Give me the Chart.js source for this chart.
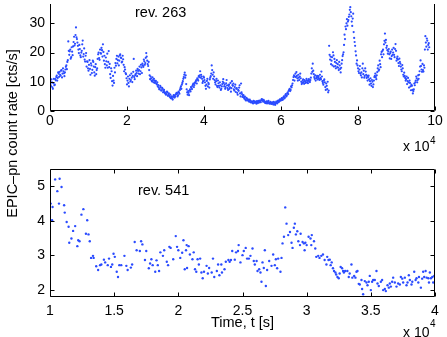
<!DOCTYPE html>
<html><head><meta charset="utf-8">
<script src="https://cdn.jsdelivr.net/npm/chart.js@4"></script>
<style>
html,body{margin:0;padding:0;background:#fff;}
#wrap{position:relative;width:447px;height:337px;overflow:hidden;background:#fff;}
canvas{position:absolute;left:0;top:0;}
</style></head><body>
<div id="wrap"><canvas id="c1" width="447" height="337"></canvas><canvas id="c2" width="447" height="337"></canvas></div>
<script>
// ---- data (time in units of 10^4 s, rate in cts/s) ----
// rev. 263: 125 s light-curve bins, listed as bin-start values (A) and half-bin values (B)
const topBinWidth = 0.025;
const topRateA = [
10.2,8.5,9.8,7.6,11.0,9.0,10.5,12.1,11.3,12.8,
13.4,12.1,14.0,12.8,13.6,11.9,14.2,15.6,16.8,23.8,
19.2,21.0,18.4,20.3,22.1,25.4,23.0,28.6,24.6,22.3,
19.8,21.2,18.4,20.6,24.1,19.5,17.6,18.9,15.2,16.8,
13.8,17.4,12.4,15.6,14.1,16.8,13.2,15.0,12.6,14.6,
19.4,18.1,21.0,19.6,20.8,22.8,17.2,16.0,18.3,15.6,
14.8,20.5,16.1,11.3,13.6,8.7,10.4,14.8,16.4,17.8,
16.3,18.6,17.2,19.4,18.1,16.9,17.7,13.6,14.2,12.6,
9.1,11.8,8.4,12.2,10.6,11.4,12.0,17.8,10.9,12.6,
13.0,14.4,12.8,15.2,13.6,14.9,16.2,15.1,17.0,16.4,
19.8,17.2,15.4,14.0,10.9,11.2,10.1,10.6,11.0,9.6,
10.3,9.1,8.4,8.0,7.5,8.2,7.1,7.6,6.8,6.5,
6.2,5.8,6.4,5.5,5.1,5.6,4.6,4.2,4.8,5.3,
5.0,5.8,6.1,5.4,6.3,7.2,8.4,9.0,10.2,11.6,
13.1,12.2,7.4,5.6,6.2,7.0,6.7,8.0,8.6,9.4,
8.9,9.8,10.6,11.2,10.4,11.6,13.6,12.4,11.0,10.2,
11.4,9.8,7.6,10.3,8.4,9.2,10.8,11.9,15.6,12.4,
13.2,10.6,9.1,11.0,8.2,9.5,8.0,8.8,7.6,9.2,
10.9,8.4,7.6,9.5,8.8,7.2,9.0,8.1,6.6,10.2,
8.6,7.4,8.2,6.5,7.8,5.6,6.9,8.8,5.0,6.4,
4.8,5.4,4.2,3.9,4.5,3.6,3.8,3.2,3.5,2.9,
3.1,2.6,3.3,2.8,3.0,3.4,2.7,3.2,3.6,3.0,
4.1,3.5,3.8,3.1,2.7,3.3,2.9,3.5,2.5,3.1,
2.4,3.0,2.2,2.8,2.1,3.2,2.6,3.6,3.3,4.0,
3.7,4.4,4.0,5.0,4.6,5.8,5.3,6.4,6.9,7.6,
7.2,8.1,9.4,11.6,10.4,12.8,13.3,11.2,12.4,10.6,
12.8,10.0,9.6,10.8,9.3,10.2,9.8,10.5,9.5,10.9,
9.9,11.4,14.6,16.2,12.6,11.0,10.4,11.6,10.8,11.9,
10.6,11.3,13.5,10.2,9.0,10.8,8.2,9.4,7.5,6.4,
22.3,17.6,16.0,18.4,20.1,15.2,16.8,14.6,17.4,16.0,
14.0,15.6,13.2,16.2,18.8,20.1,26.1,28.9,30.0,29.2,
31.1,33.0,35.5,32.4,29.1,33.3,25.0,22.3,19.0,17.3,
14.6,13.0,15.4,12.2,11.5,16.2,13.8,12.0,13.5,11.3,
10.4,12.1,9.0,11.2,8.6,10.0,9.1,11.6,12.8,10.9,
13.3,15.6,14.2,16.0,19.4,18.4,21.0,22.8,26.5,24.3,
22.3,19.6,21.2,18.0,20.3,18.8,19.2,21.6,18.4,22.9,
17.2,18.6,16.4,17.9,16.2,14.2,15.7,12.4,13.1,11.3,
10.9,9.2,11.3,8.0,9.6,7.1,8.6,6.0,7.4,8.8,
10.4,11.2,10.6,11.0,13.6,17.3,14.2,16.1,13.5,14.8,
25.6,22.0,24.1,22.6,21.8
];
const topRateB = [
9.2,10.8,8.1,9.5,8.8,10.9,11.6,10.4,13.2,11.7,
12.4,13.8,11.5,14.6,12.9,13.2,15.1,14.3,17.4,20.6,
20.4,17.9,21.8,19.1,23.6,22.4,26.0,25.2,23.4,21.0,
22.6,19.0,20.0,22.8,18.6,21.4,16.9,19.8,17.0,14.6,
15.8,14.4,16.3,13.0,17.2,15.2,12.1,16.0,14.0,17.8,
20.0,17.5,19.8,21.6,18.6,20.2,18.9,14.8,17.0,19.6,
16.8,15.0,12.6,14.6,10.2,12.0,9.6,13.2,15.5,18.9,
17.4,15.6,19.0,18.3,16.6,18.9,15.8,15.0,13.0,11.2,
10.4,9.6,11.0,10.1,12.8,9.9,13.4,11.6,12.2,13.8,
11.9,13.7,14.0,12.6,15.8,13.0,15.6,17.6,15.8,18.2,
18.6,16.0,16.8,12.2,11.8,10.4,11.5,9.8,10.4,10.0,
9.4,9.8,8.9,7.4,8.6,7.0,7.9,6.4,7.2,6.0,
5.6,6.6,5.2,6.0,4.8,4.4,5.0,3.9,5.4,4.6,
5.6,6.2,5.0,6.6,5.9,7.8,7.6,9.6,11.0,12.4,
11.4,9.2,6.4,6.8,5.4,7.4,8.2,7.5,9.0,8.2,
9.6,10.2,9.4,10.8,11.9,12.2,11.4,11.8,9.6,11.8,
10.6,8.6,9.0,11.0,9.6,8.0,11.4,12.8,14.0,11.0,
11.8,9.8,10.2,8.6,10.4,8.6,9.8,7.2,8.4,10.0,
9.6,9.0,8.2,10.6,7.8,8.6,7.6,9.6,7.8,8.9,
9.4,7.0,9.0,7.6,6.2,7.2,8.0,6.0,9.4,5.8,
5.2,4.6,4.9,3.6,4.2,4.0,3.4,3.9,3.0,3.3,
2.8,3.5,2.9,3.2,2.5,3.1,3.5,2.9,3.3,3.7,
3.9,3.2,3.4,2.8,3.1,2.6,3.2,2.7,2.9,2.6,
2.8,2.5,3.1,2.3,2.7,2.9,3.4,3.0,3.8,3.5,
4.2,3.8,4.7,4.3,5.4,5.0,6.0,5.8,7.2,6.8,
8.4,8.8,10.6,12.2,11.8,11.6,12.0,10.4,11.4,11.8,
11.2,9.2,10.4,9.9,10.6,9.6,11.0,9.9,10.4,10.1,
10.6,12.8,13.4,13.8,11.6,12.2,11.2,12.0,11.4,11.0,
12.4,10.9,11.8,9.6,10.4,9.8,7.2,8.6,10.0,7.0,
19.2,18.6,17.2,15.6,19.0,17.8,15.4,16.4,15.0,14.8,
16.8,14.4,14.8,17.4,19.4,22.6,24.6,28.0,31.4,30.6,
32.2,34.6,33.8,30.6,31.6,27.0,23.6,20.4,16.2,15.6,
13.6,14.2,12.8,13.2,14.6,12.6,11.4,14.6,12.4,12.0,
11.6,10.8,10.2,9.4,10.6,8.2,10.4,12.0,11.6,12.2,
14.6,13.8,17.2,15.0,20.2,20.6,19.4,24.0,23.4,21.6,
20.8,20.4,19.4,19.8,17.8,21.0,20.0,19.2,21.2,20.6,
18.0,17.6,15.4,16.8,15.2,13.6,14.6,11.8,12.0,10.4,
11.8,10.2,9.8,10.4,8.4,9.0,7.2,6.8,9.4,9.8,
11.8,9.8,12.2,12.4,15.2,15.4,13.4,14.0,15.6,21.0,
23.4,24.8,21.0,23.2
];

// rev. 541
const botTime = [
1.005,1.016,1.02,1.04,1.057,1.07,1.075,1.09,1.11,1.115,1.13,1.145,1.15,1.167,1.18,1.196,1.213,1.22,1.23,1.245,
1.26,1.28,1.29,1.30,1.31,1.32,1.335,1.34,1.36,1.375,1.39,1.40,1.42,1.43,1.45,1.46,1.475,1.485,1.495,1.505,
1.52,1.53,1.54,1.555,1.58,1.595,1.605,1.63,1.64,1.66,1.675,1.70,1.71,1.72,1.74,1.75,1.77,1.78,1.79,1.80,
1.82,1.83,1.84,1.85,1.86,1.88,1.89,1.91,1.92,1.93,1.94,1.96,1.98,1.99,
2.0,2.015,2.03,2.04,2.05,2.06,2.065,2.068,2.08,2.09,2.11,2.12,2.13,2.14,2.15,2.16,2.17,2.18,2.19,2.20,
2.22,2.23,2.24,2.26,2.27,2.28,2.30,2.31,2.32,2.335,2.34,2.36,2.37,2.39,2.40,2.41,2.42,2.44,2.45,2.465,
2.47,2.484,2.50,2.51,2.525,2.536,2.55,2.562,2.578,2.588,2.596,2.61,2.617,2.63,2.64,2.648,2.656,2.666,2.674,2.682,
2.692,2.708,2.726,2.739,2.752,2.76,2.77,2.778,2.796,2.804,2.812,2.823,2.833,2.843,2.856,2.87,2.882,2.89,2.90,2.908,
2.916,2.927,2.935,2.948,2.953,2.968,2.978,2.984,
2.99,3.0,3.015,3.03,3.036,3.04,3.057,3.067,3.075,3.09,3.10,3.114,3.127,3.14,3.154,3.16,3.17,3.18,3.187,3.195,
3.205,3.213,3.224,3.23,3.24,3.25,3.257,3.265,3.276,3.284,3.29,3.30,3.317,3.328,3.335,3.349,3.356,3.37,3.38,3.388,
3.396,3.406,3.414,3.427,3.432,3.44,3.453,3.466,3.474,3.484,3.492,3.50,3.51,3.518,3.531,3.544,3.552,3.562,3.578,3.588,
3.596,3.609,3.617,3.63,3.64,3.648,3.656,3.666,3.674,3.687,3.70,3.713,3.726,3.734,3.745,3.752,3.765,3.778,3.786,3.796,
3.804,3.817,3.823,3.838,3.849,3.856,3.87,3.875,3.89,3.90,3.908,3.916,3.927,3.935,3.948,3.953,3.96,3.968,3.979,3.986,
3.994,4.0
];
const botRate = [
4.50,4.02,4.40,5.20,4.86,4.50,5.22,4.98,4.45,4.24,3.97,3.83,3.37,3.49,3.71,3.85,3.27,3.44,3.41,4.18,
4.34,3.63,4.02,3.61,3.41,2.93,2.99,2.93,2.69,2.58,2.72,2.74,2.88,2.80,2.72,2.91,2.67,2.74,3.05,2.96,
2.53,2.38,2.72,2.72,2.99,2.70,2.58,2.65,2.74,3.39,3.15,3.13,3.41,3.32,2.87,3.13,2.63,2.77,2.89,2.72,
2.53,2.86,2.72,2.55,3.09,2.99,3.15,2.82,2.72,3.25,3.22,2.89,3.56,3.25,
3.15,2.93,3.08,3.44,2.60,3.15,3.30,2.64,3.27,3.03,2.89,3.09,2.60,2.53,2.89,2.74,2.91,2.51,2.34,2.53,
2.70,2.48,2.64,2.51,2.91,2.38,2.55,2.74,2.43,2.74,2.51,2.60,2.82,2.87,2.82,2.87,3.13,2.88,3.09,3.13,
3.30,2.80,3.01,3.13,3.22,2.91,2.91,2.99,3.20,2.84,2.74,2.84,2.55,2.60,2.51,2.24,2.80,2.64,3.15,2.12,
2.58,2.84,2.70,3.03,2.72,2.89,2.63,2.91,2.53,2.93,3.35,3.54,4.39,3.92,3.59,3.68,3.37,3.22,3.80,3.92,
3.61,3.70,3.41,3.30,3.63,3.39,3.35,3.15,
3.37,3.30,3.54,3.49,3.30,3.59,3.41,3.20,2.96,2.99,2.93,2.99,3.03,2.87,2.74,2.96,2.87,2.88,2.72,2.80,
2.63,2.55,2.51,2.45,2.38,2.34,2.48,2.67,2.63,2.55,2.51,2.55,2.55,2.38,2.48,2.74,2.36,2.41,2.36,2.53,
2.55,2.18,2.16,2.29,2.03,1.88,2.26,2.22,2.14,2.24,2.41,2.00,2.24,2.29,2.29,2.55,2.19,2.12,2.24,2.29,
2.00,2.03,1.97,2.14,2.07,2.19,2.10,2.24,2.36,2.22,2.10,2.19,2.16,2.38,2.33,2.22,2.36,2.14,2.22,2.43,
2.29,2.16,2.24,2.53,2.29,2.34,2.22,2.38,2.07,2.33,2.53,2.38,2.55,2.36,2.34,2.22,2.51,2.34,2.38,2.22,
2.41,2.36
];

const topXTicks = [0,2,4,6,8,10];
const topYTicks = [0,10,20,30];
const botXTicks = [1,1.5,2,2.5,3,3.5,4];
const botYTicks = [2,3,4,5];

const yTitle = 'EPIC\u2013pn count rate [cts/s]';
const xTitle = 'Time, t [s]';
const topTag = 'rev. 263';
const botTag = 'rev. 541';
const expBase = 'x 10';
const expPow = '4';

// ---- rendering ----
const FONT = "'Liberation Sans', Arial, Helvetica, sans-serif";
Chart.defaults.font.family = FONT;
Chart.defaults.font.size = 14;
Chart.defaults.color = '#000';

const DOT = '#2a4bff';

const framePlugin = {
  id: 'frame',
  afterDatasetsDraw(chart, args, o) {
    const {ctx, chartArea: a} = chart;
    const xs = chart.scales.x, ys = chart.scales.y;
    const L = Math.round(a.left) + 0.5, R = Math.round(a.right) - 0.5;
    const T = Math.round(a.top) + 0.5, B = Math.round(a.bottom) - 0.5;
    const tl = 4;
    ctx.save();
    ctx.strokeStyle = '#000';
    ctx.lineWidth = 1;
    ctx.beginPath();
    ctx.moveTo(L, o.top ? T : a.top); ctx.lineTo(L, B); ctx.lineTo(R, B); ctx.lineTo(R, o.top ? T : a.top);
    if (o.top) ctx.lineTo(L, T);
    ctx.stroke();
    ctx.beginPath();
    xs.ticks.forEach(t => {
      const px = Math.round(xs.getPixelForValue(t.value)) + 0.5;
      ctx.moveTo(px, B); ctx.lineTo(px, B - tl);
      if (o.top) { ctx.moveTo(px, T); ctx.lineTo(px, T + tl); }
    });
    ys.ticks.forEach(t => {
      const py = Math.round(ys.getPixelForValue(t.value)) + 0.5;
      ctx.moveTo(L, py); ctx.lineTo(L + tl, py);
      ctx.moveTo(R, py); ctx.lineTo(R - tl, py);
    });
    ctx.stroke();
    ctx.fillStyle = '#000';
    ctx.textBaseline = 'alphabetic';
    (o.texts || []).forEach(t => {
      ctx.save();
      ctx.font = (t.size || 14.5) + 'px ' + FONT;
      ctx.textAlign = t.align || 'left';
      ctx.translate(t.x, t.y);
      if (t.rot) ctx.rotate(t.rot);
      ctx.fillText(t.text, 0, 0);
      ctx.restore();
    });
    ctx.restore();
  }
};

const plainLabel = v => String(Math.round(v * 100) / 100);

function makeScales(xmin, xmax, xticks, ymin, ymax, yticks, xh, xpad) {
  return {
    x: {
      type: 'linear', min: xmin, max: xmax,
      grid: {display: false, drawTicks: false}, border: {display: false},
      afterBuildTicks: s => { s.ticks = xticks.map(v => ({value: v})); },
      ticks: {padding: xpad, maxRotation: 0, autoSkip: false, font: {size: 14}, callback: plainLabel},
      afterFit: s => { s.height = xh; s.paddingLeft = 0; s.paddingRight = 0; }
    },
    y: {
      type: 'linear', min: ymin, max: ymax,
      grid: {display: false, drawTicks: false}, border: {display: false},
      afterBuildTicks: s => { s.ticks = yticks.map(v => ({value: v})); },
      ticks: {padding: 5, autoSkip: false, font: {size: 14}, callback: plainLabel},
      afterFit: s => { s.width = 50; s.paddingTop = 0; s.paddingBottom = 0; }
    }
  };
}

const topPoints = [];
topRateA.forEach((v, i) => {
  topPoints.push({x: i * topBinWidth, y: v});
  if (i < topRateB.length) topPoints.push({x: (i + 0.5) * topBinWidth, y: topRateB[i]});
});

new Chart(document.getElementById('c1'), {
  type: 'scatter',
  data: {datasets: [{
    data: topPoints,
    pointRadius: 1.1, pointBorderWidth: 0, backgroundColor: DOT, borderColor: DOT
  }]},
  options: {
    responsive: false, animation: false, events: [],
    layout: {padding: {left: 0, top: 0, right: 12, bottom: 0}},
    scales: makeScales(0, 10, topXTicks, 0, 36.6, topYTicks, 226, 2),
    plugins: {
      legend: {display: false}, tooltip: {enabled: false},
      frame: {top: false, texts: [
        {text: topTag, x: 135, y: 16.7},
        {text: expBase, x: 403, y: 151, size: 14},
        {text: expPow, x: 430, y: 144, size: 10},
        {text: yTitle, x: 17, y: 133.5, align: 'center', rot: -Math.PI / 2}
      ]}
    }
  },
  plugins: [framePlugin]
});

new Chart(document.getElementById('c2'), {
  type: 'scatter',
  data: {datasets: [{
    data: botTime.map((t, i) => ({x: t, y: botRate[i]})),
    pointRadius: 1.2, pointBorderWidth: 0, backgroundColor: DOT, borderColor: DOT
  }]},
  options: {
    responsive: false, animation: false, events: [],
    layout: {padding: {left: 0, top: 169, right: 12, bottom: 0}},
    scales: makeScales(1, 4, botXTicks, 1.8, 5.5, botYTicks, 40, 6),
    plugins: {
      legend: {display: false}, tooltip: {enabled: false},
      frame: {top: true, texts: [
        {text: botTag, x: 138, y: 195},
        {text: xTitle, x: 242.5, y: 327, align: 'center'},
        {text: expBase, x: 403, y: 337, size: 14},
        {text: expPow, x: 430, y: 327, size: 10}
      ]}
    }
  },
  plugins: [framePlugin]
});
</script>
</body></html>
